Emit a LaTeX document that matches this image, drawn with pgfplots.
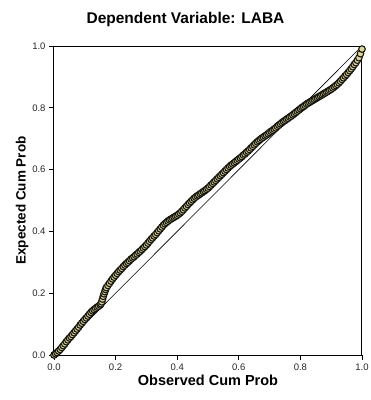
\documentclass[border=0pt]{standalone}
\usepackage{pgfplots}
\pgfplotsset{compat=1.18}
\usepackage{fontspec}
\setmainfont{Liberation Sans}
\definecolor{ptfill}{RGB}{222,214,150}
\definecolor{ptdraw}{RGB}{22,22,16}
\begin{document}
\begin{tikzpicture}
\begin{axis}[
  scale only axis,
  width=308pt, height=309pt,
  xmin=0, xmax=1, ymin=0, ymax=1,
  xtick={0,0.2,...,1.0}, ytick={0,0.2,...,1.0},
  xticklabel style={/pgf/number format/fixed,/pgf/number format/fixed zerofill,/pgf/number format/precision=1},
  yticklabel style={/pgf/number format/fixed,/pgf/number format/fixed zerofill,/pgf/number format/precision=1},
  /pgf/number format/assume math mode=true,
  tick label style={font=\fontsize{9.5}{11}\selectfont, text=black!85},
  tick align=outside,
  tick pos=left,
  major tick length=5pt,
  axis line style={line width=1pt},
  tick style={line width=0.8pt, black},
  xlabel={Observed Cum Prob},
  ylabel={Expected Cum Prob},
  xlabel style={font=\bfseries\fontsize{14.5}{16}\selectfont, yshift=2pt},
  ylabel style={font=\bfseries\fontsize{13.5}{15}\selectfont, yshift=-3pt},
  clip=false,
]
\addplot[black, line width=0.6pt] coordinates {(0,0) (1,1)};
\addplot[only marks, mark=*, mark size=3.3pt, mark options={fill=ptfill, draw=ptdraw, line width=1.1pt}] coordinates {
(0.00,0.000) (0.005,0.004) (0.01,0.008) (0.015,0.013) (0.02,0.018) (0.025,0.024)
(0.03,0.030) (0.035,0.036) (0.04,0.043) (0.045,0.049) (0.05,0.055) (0.055,0.060)
(0.06,0.066) (0.065,0.072) (0.07,0.078) (0.075,0.084) (0.08,0.090) (0.085,0.097)
(0.09,0.103) (0.095,0.109) (0.10,0.115) (0.105,0.120) (0.11,0.126) (0.115,0.132)
(0.12,0.138) (0.125,0.143) (0.13,0.147) (0.135,0.151) (0.14,0.155) (0.145,0.158)
(0.15,0.162) (0.1525,0.166) (0.155,0.172) (0.1575,0.181) (0.16,0.190) (0.1625,0.198)
(0.165,0.205) (0.1675,0.212) (0.17,0.218) (0.175,0.225) (0.18,0.232) (0.185,0.239)
(0.19,0.246) (0.195,0.252) (0.20,0.258) (0.205,0.264) (0.21,0.270) (0.215,0.275)
(0.22,0.280) (0.225,0.286) (0.23,0.291) (0.235,0.296) (0.24,0.300) (0.245,0.305)
(0.25,0.310) (0.255,0.314) (0.26,0.318) (0.265,0.323) (0.27,0.327) (0.275,0.332)
(0.28,0.336) (0.285,0.341) (0.29,0.346) (0.295,0.351) (0.30,0.356) (0.305,0.362)
(0.31,0.368) (0.315,0.374) (0.32,0.379) (0.325,0.385) (0.33,0.390) (0.335,0.396)
(0.34,0.402) (0.345,0.408) (0.35,0.414) (0.355,0.420) (0.36,0.425) (0.365,0.429)
(0.37,0.433) (0.375,0.437) (0.38,0.440) (0.385,0.443) (0.39,0.446) (0.395,0.449)
(0.40,0.452) (0.405,0.456) (0.41,0.460) (0.415,0.465) (0.42,0.470) (0.425,0.476)
(0.43,0.481) (0.435,0.487) (0.44,0.492) (0.445,0.497) (0.45,0.502) (0.455,0.507)
(0.46,0.511) (0.465,0.515) (0.47,0.518) (0.475,0.522) (0.48,0.525) (0.485,0.529)
(0.49,0.532) (0.495,0.536) (0.50,0.540) (0.505,0.545) (0.51,0.550) (0.515,0.555)
(0.52,0.560) (0.525,0.565) (0.53,0.570) (0.535,0.575) (0.54,0.580) (0.545,0.585)
(0.55,0.590) (0.555,0.595) (0.56,0.600) (0.565,0.605) (0.57,0.610) (0.575,0.614)
(0.58,0.618) (0.585,0.622) (0.59,0.626) (0.595,0.630) (0.60,0.634) (0.605,0.638)
(0.61,0.642) (0.615,0.647) (0.62,0.651) (0.625,0.656) (0.63,0.660) (0.635,0.665)
(0.64,0.670) (0.645,0.675) (0.65,0.680) (0.655,0.685) (0.66,0.690) (0.665,0.694)
(0.67,0.698) (0.675,0.702) (0.68,0.705) (0.685,0.709) (0.69,0.712) (0.695,0.716)
(0.70,0.720) (0.705,0.724) (0.71,0.727) (0.715,0.731) (0.72,0.735) (0.725,0.740)
(0.73,0.744) (0.735,0.748) (0.74,0.752) (0.745,0.756) (0.75,0.759) (0.755,0.763)
(0.76,0.766) (0.765,0.770) (0.77,0.773) (0.775,0.777) (0.78,0.781) (0.785,0.785)
(0.79,0.789) (0.795,0.793) (0.80,0.797) (0.805,0.801) (0.81,0.804) (0.815,0.808)
(0.82,0.812) (0.825,0.815) (0.83,0.818) (0.835,0.821) (0.84,0.824) (0.845,0.827)
(0.85,0.830) (0.855,0.833) (0.86,0.836) (0.865,0.839) (0.87,0.842) (0.875,0.845)
(0.88,0.848) (0.885,0.851) (0.89,0.854) (0.895,0.857) (0.90,0.860) (0.905,0.864)
(0.91,0.868) (0.915,0.872) (0.92,0.876) (0.925,0.881) (0.93,0.886) (0.935,0.892)
(0.94,0.897) (0.945,0.903) (0.95,0.908) (0.955,0.914) (0.96,0.920) (0.965,0.926)
(0.97,0.933) (0.975,0.940) (0.98,0.946) (0.985,0.954) (0.99,0.962) (0.995,0.975)
(1.00,0.990)
};
\end{axis}
\node[font=\bfseries\fontsize{15.5}{17}\selectfont, anchor=center] at ([shift={(131.5pt,27pt)}]current axis.north west) {Dependent Variable: LABA};
\pgfresetboundingbox
\path ([shift={(-54pt,-45pt)}]current axis.south west) rectangle ([shift={(9pt,46pt)}]current axis.north east);
\end{tikzpicture}
\end{document}
